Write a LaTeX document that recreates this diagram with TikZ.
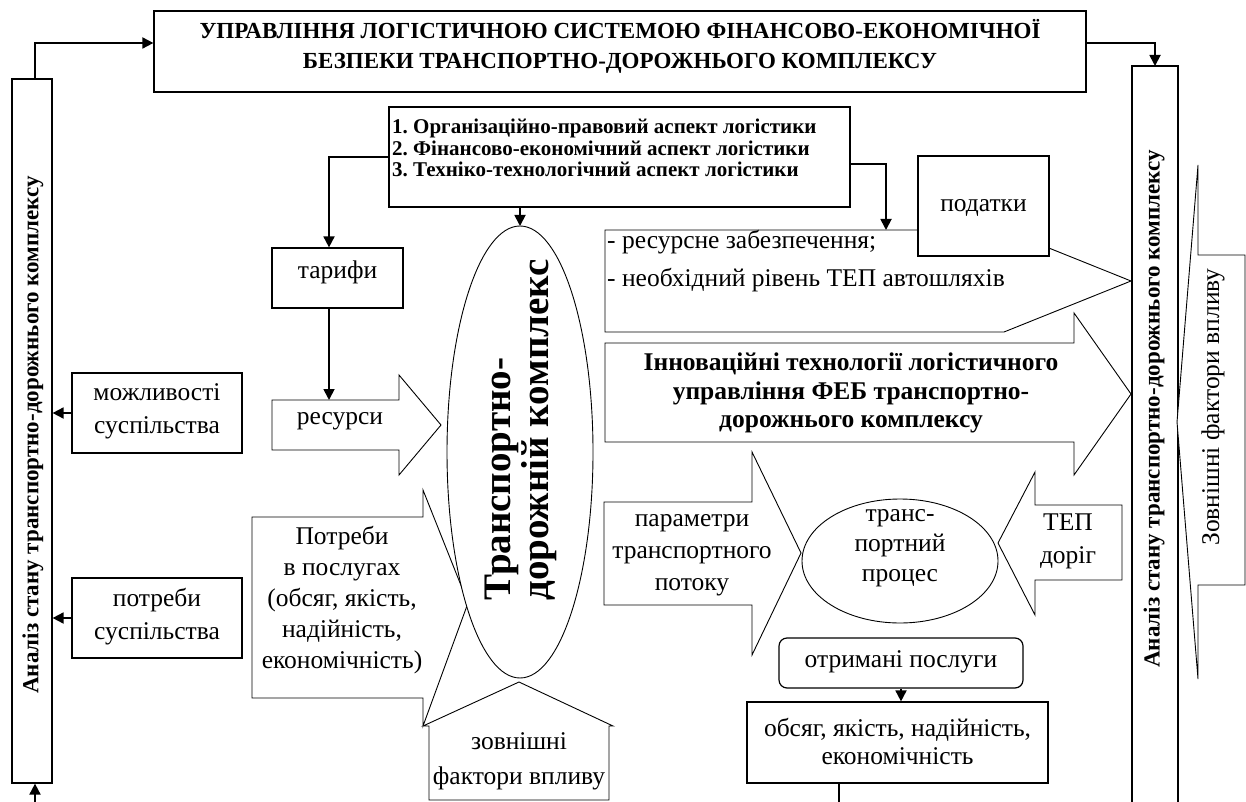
\documentclass[tikz,border=0pt]{standalone}
\usepackage{fontspec}
\setmainfont{Liberation Serif}
\usetikzlibrary{arrows.meta,shapes.geometric}
\tikzset{
  box/.style={draw, fill=white, line width=1.2pt, inner sep=0pt, align=center},
  shp/.style={draw, fill=white, line width=0.9pt, line join=miter},
  arr/.style={-{Triangle[length=11pt,width=11pt]}, line width=1.8pt},
  con/.style={line width=1.3pt},
  rt/.style={font=\fontsize{25.5}{33}\selectfont, align=center, inner sep=0pt},
  bt/.style={font=\bfseries\fontsize{21}{21.7}\selectfont, align=left, inner sep=0pt},
  ttl/.style={font=\bfseries\fontsize{23}{30}\selectfont, align=center, inner sep=0pt},
  side/.style={font=\bfseries\fontsize{23}{25}\selectfont, inner sep=0pt, rotate=90},
  big/.style={font=\bfseries\fontsize{39}{38}\selectfont, align=left, inner sep=0pt, rotate=90},
  inn/.style={font=\bfseries\fontsize{25.5}{28.5}\selectfont, align=center, inner sep=0pt}
}
\begin{document}
\frenchspacing
\begin{tikzpicture}[x=1pt,y=-1pt]
\useasboundingbox (0,0) rectangle (1246,802);

% title
\node[box, minimum width=932pt, minimum height=81pt] (title) at (620,51.5) {};
\node[ttl] (titletext) at (620,46) {УПРАВЛІННЯ ЛОГІСТИЧНОЮ СИСТЕМОЮ ФІНАНСОВО-ЕКОНОМІЧНОЇ\\БЕЗПЕКИ ТРАНСПОРТНО-ДОРОЖНЬОГО КОМПЛЕКСУ};

% left analysis box
\node[box, minimum width=40pt, minimum height=704pt] (lbox) at (32,431) {};
\node[side] (ltext) at (33,435) {Аналіз стану транспортно-дорожнього комплексу};
\coordinate (lin) at (35,802);

% right analysis box (open at the bottom)
\draw[con] (1132,802) -- (1132,66) -- (1178,66) -- (1178,802);
\coordinate (rbtop) at (1155,66);
\node[side] (rtext) at (1154,409) {Аналіз стану транспортно-дорожнього комплексу};

% external factors (right, pointing left)
\draw[shp] (1177,422) -- (1198,165) -- (1198,255) -- (1245,255) -- (1245,585) -- (1198,585) -- (1198,679) -- cycle;
\node[rt, rotate=90] (zovn) at (1213,407) {Зовнішні фактори впливу};

% connectors at the frame
\draw[arr] ([xshift=3pt]lbox.north) |- ([yshift=8.5pt]title.west);
\draw[arr] ([yshift=8.5pt]title.east) -| (rbtop);
\draw[arr] (lin) -- (lin |- lbox.south);

% society boxes
\node[box, minimum width=170pt, minimum height=80pt] (mozh) at (157,413) {};
\node[rt] (mozhtext) at (157,411.5) {можливості\\суспільства};
\node[box, minimum width=170pt, minimum height=80pt] (potr) at (157,618) {};
\node[rt] (potrtext) at (157,616.5) {потреби\\суспільства};
\draw[arr] (mozh.west) -- (mozh.west -| lbox.east);
\draw[arr] (potr.west) -- (potr.west -| lbox.east);

% aspects
\node[box, minimum width=461pt, minimum height=100pt] (asp) at (619.5,157) {};
\node[bt, anchor=west] (asptext) at (392,148) {1. Організаційно-правовий аспект логістики\\2. Фінансово-економічний аспект логістики\\3. Техніко-технологічний аспект логістики};

% tariffs and resources
\node[box, minimum width=131pt, minimum height=60pt] (tar) at (337.5,278) {};
\node[rt] (tartext) at (337.5,272) {тарифи};
\draw[arr] (asp.west) -| ([xshift=-8.5pt]tar.north);
\draw[shp] (272,400) -- (399,400) -- (399,375) -- (441,425) -- (399,475) -- (399,450) -- (272,450) -- cycle;
\node[rt] (res) at (340,421) {ресурси};
\coordinate (resin) at (329,400);
\draw[arr] ([xshift=-8.5pt]tar.south) -- (resin);

% needs callout
\draw[shp] (252,517) -- (423,517) -- (423,490) -- (468,603) -- (423,726) -- (423,698) -- (252,698) -- cycle;
\node[rt, font=\fontsize{25.5}{31}\selectfont] (needs) at (342,600) {Потреби\\в послугах\\(обсяг, якість,\\надійність,\\економічність)};

% external factors (bottom, house)
\draw[shp] (429,800) -- (429,726) -- (423,726) -- (519,682) -- (613,726) -- (609,726) -- (609,800) -- cycle;
\node[rt, font=\fontsize{25.5}{35}\selectfont] (zovn2) at (519,761) {зовнішні\\фактори впливу};

% transport complex ellipse
\draw[shp] (520,452) ellipse [x radius=73, y radius=226];
\coordinate (ell) at (520,226);
\node[big] (tdk) at (521,430) {Транспортно-\\дорожній комплекс};
\draw[arr] (asp.south -| ell) -- (ell);

% pentagon with taxes
\draw[shp] (605,230) -- (1004,230) -- (1131,281) -- (1004,332) -- (605,332) -- cycle;
\node[rt, align=left, font=\fontsize{25.5}{38}\selectfont, anchor=west] (restext) at (607,261) {- ресурсне забезпечення;\\- необхідний рівень ТЕП автошляхів};
\node[box, minimum width=131pt, minimum height=100pt] (tax) at (983.5,206) {};
\node[rt] (taxtext) at (983.5,208) {податки};
\coordinate (pentin) at (886,230);
\draw[arr] ([yshift=-7pt]asp.east) -| (pentin);

% innovation arrow
\draw[shp] (605,343) -- (1074,343) -- (1074,313) -- (1131,394) -- (1074,475) -- (1074,442) -- (605,442) -- cycle;
\node[inn] (innov) at (851,393) {Інноваційні технології логістичного\\управління ФЕБ транспортно-\\дорожнього комплексу};

% transport process
\draw[shp] (604,502) -- (752,502) -- (752,452) -- (801,553) -- (752,655) -- (752,605) -- (604,605) -- cycle;
\node[rt, font=\fontsize{25.5}{32}\selectfont] (param) at (692,555) {параметри\\транспортного\\потоку};
\draw[shp] (1122,505) -- (1035,505) -- (1035,472) -- (998,543) -- (1035,615) -- (1035,580) -- (1122,580) -- cycle;
\node[rt, font=\fontsize{25.5}{33}\selectfont] (tep) at (1068,541) {ТЕП\\доріг};
\node[draw, fill=white, line width=0.9pt, ellipse, minimum width=196pt, minimum height=124pt, inner sep=0pt] (proc) at (900,561) {};
\node[rt, font=\fontsize{25.5}{30}\selectfont] (proctext) at (900,548) {транс-\\портний\\процес};

% services
\node[box, rounded corners=8pt, minimum width=244pt, minimum height=50pt] (otr) at (901,663) {};
\node[rt] (otrtext) at (901,662) {отримані послуги};
\node[box, minimum width=301pt, minimum height=81pt] (obs) at (897.5,742.5) {};
\node[rt, font=\fontsize{25.5}{28}\selectfont] (obstext) at (897.5,741) {обсяг, якість, надійність,\\економічність};
\draw[arr] (otr.south) -- (otr.south |- obs.north);
\coordinate (obsout) at (839,802);
\draw[con] (obs.south -| obsout) -- (obsout);
\end{tikzpicture}
\end{document}
